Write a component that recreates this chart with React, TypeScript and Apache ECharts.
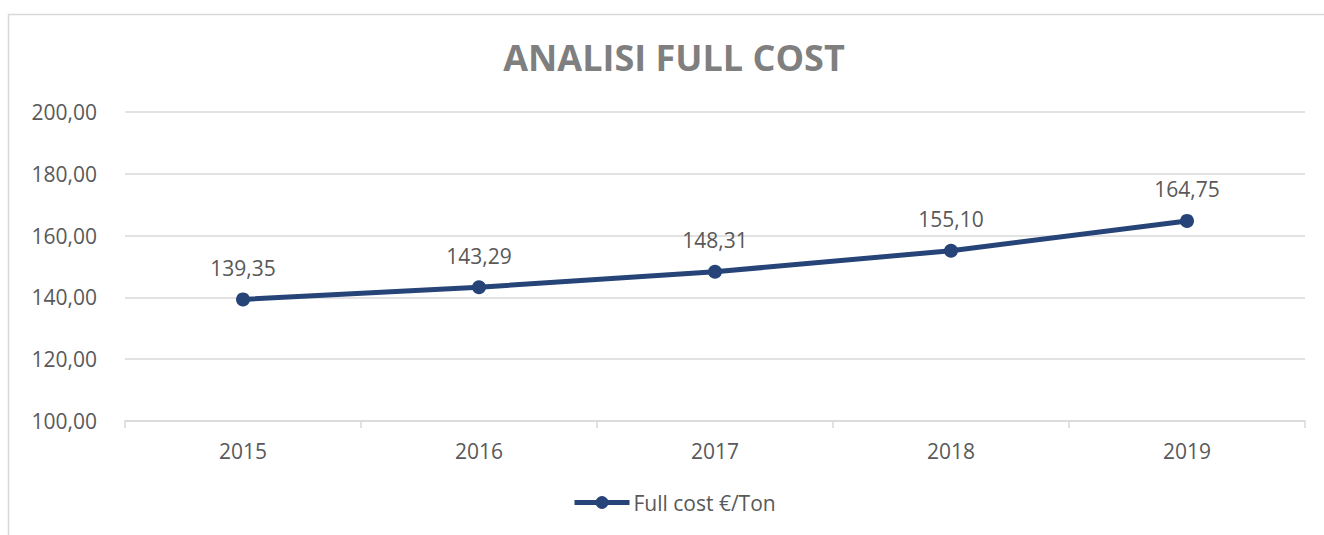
import React, { useEffect, useRef } from "react";
import * as echarts from "echarts";

const categories = ["2015", "2016", "2017", "2018", "2019"];
const fullCost = [139.35, 143.29, 148.31, 155.1, 164.75];
const seriesName = "Full cost €/Ton";
const titleText = "ANALISI FULL COST";

const fmt = (v: number) => v.toFixed(2).replace(".", ",");

export default function App() {
  const ref = useRef<HTMLDivElement>(null);
  useEffect(() => {
    if (!ref.current) return;
    const chart = echarts.init(ref.current, undefined, { renderer: "svg" });
    const font = "'Open Sans', 'Noto Sans', sans-serif";
    chart.setOption({
      animation: false,
      backgroundColor: "#ffffff",
      textStyle: { fontFamily: font },
      title: {
        text: titleText,
        left: 669,
        textAlign: "center",
        top: 34,
        textStyle: { fontFamily: font, fontSize: 36, fontWeight: "bold", color: "#7f7f7f" },
      },
      graphic: [
        {
          type: "rect",
          shape: { x: 8.5, y: 14.5, width: 1400, height: 600 },
          style: { fill: "none", stroke: "#d9d9d9", lineWidth: 1.5 },
          silent: true,
        },
      ],
      grid: { left: 125, right: 19, top: 112, bottom: 114, containLabel: false },
      legend: {
        bottom: 17,
        left: 567,
        itemWidth: 55,
        itemHeight: 16,
        itemGap: 10,
        lineStyle: { width: 5, color: "#264478" },
        textStyle: { fontFamily: font, fontSize: 21, color: "#595959", padding: [0, 0, 0, -1] },
        data: [seriesName],
      },
      xAxis: {
        type: "category",
        data: categories,
        boundaryGap: true,
        axisLine: { show: true, lineStyle: { color: "#d9d9d9", width: 1.5 } },
        axisTick: { show: true, length: 7, lineStyle: { color: "#d9d9d9", width: 1.5 } },
        axisLabel: { fontFamily: font, fontSize: 21, color: "#595959", margin: 19 },
      },
      yAxis: {
        type: "value",
        min: 100,
        max: 200,
        interval: 20,
        axisLine: { show: false },
        axisTick: { show: false },
        splitLine: { lineStyle: { color: "#d9d9d9", width: 1.5 } },
        axisLabel: {
          fontFamily: font,
          fontSize: 21,
          color: "#595959",
          margin: 28,
          formatter: (v: number) => fmt(v),
        },
      },
      series: [
        {
          name: seriesName,
          type: "line",
          data: fullCost,
          symbol: "circle",
          symbolSize: 14,
          lineStyle: { color: "#264478", width: 5 },
          itemStyle: { color: "#264478" },
          label: {
            show: true,
            position: "top",
            distance: 14,
            fontFamily: font,
            fontSize: 21,
            color: "#595959",
            formatter: (p: any) => fmt(p.value),
          },
        },
      ],
    });
    return () => chart.dispose();
  }, []);
  return (
    <div
      ref={ref}
      style={{ position: "absolute", left: 0, top: 0, width: 1324, height: 535 }}
    />
  );
}
